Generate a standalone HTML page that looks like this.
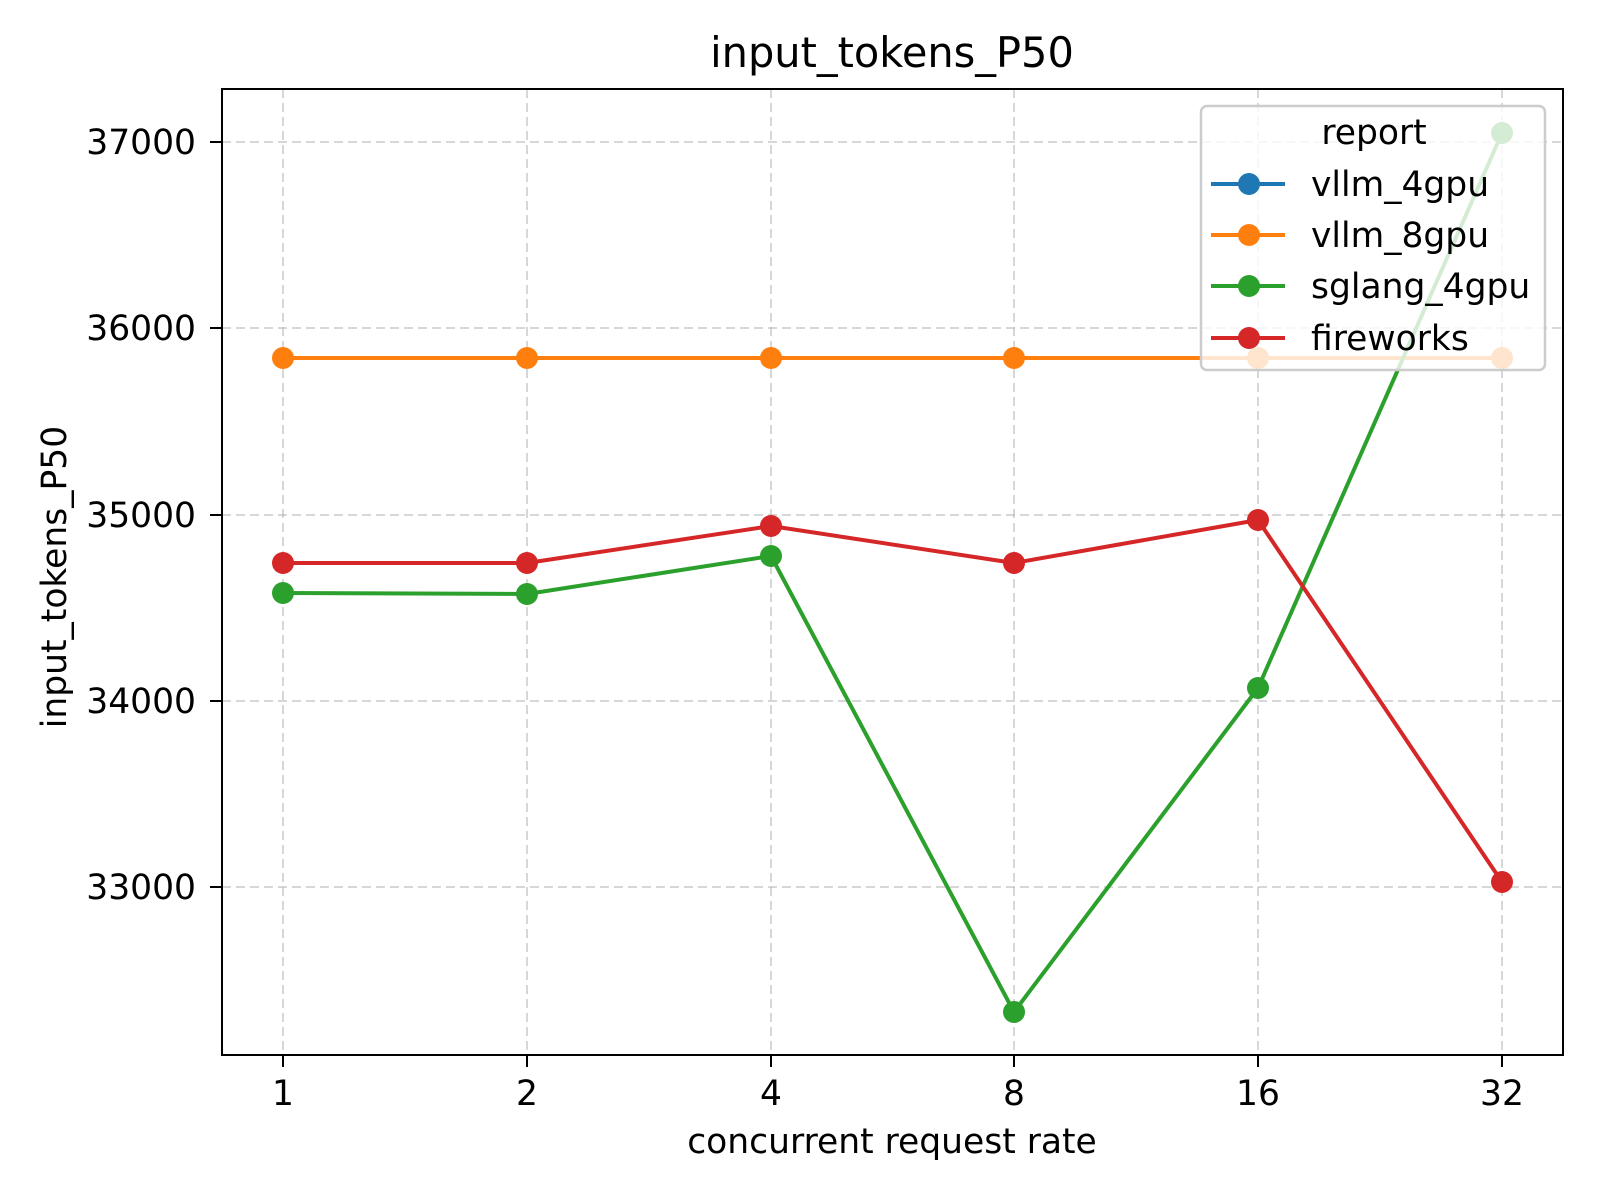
<!DOCTYPE html>
<html><head><meta charset="utf-8"><style>html,body{margin:0;padding:0;background:#fff}svg{display:block}</style></head>
<body>
<svg width="1600" height="1200" xmlns="http://www.w3.org/2000/svg" font-family="DejaVu Sans, Liberation Sans, sans-serif">
<rect width="1600" height="1200" fill="#fff"/>
<g stroke="#b0b0b0" stroke-opacity="0.5" stroke-width="2" stroke-dasharray="9,5">
<line x1="283" y1="89" x2="283" y2="1055"/><line x1="527" y1="89" x2="527" y2="1055"/><line x1="771" y1="89" x2="771" y2="1055"/><line x1="1014" y1="89" x2="1014" y2="1055"/><line x1="1258" y1="89" x2="1258" y2="1055"/><line x1="1502" y1="89" x2="1502" y2="1055"/>
<line x1="222" y1="142" x2="1563" y2="142"/><line x1="222" y1="328" x2="1563" y2="328"/><line x1="222" y1="515" x2="1563" y2="515"/><line x1="222" y1="701" x2="1563" y2="701"/><line x1="222" y1="887" x2="1563" y2="887"/>
</g>
<g fill="none" stroke-width="4" stroke-linejoin="round">
<polyline stroke="#ff7f0e" points="283,358 527,358 771,358 1014,358 1258,358 1502,358"/>
<polyline stroke="#2ca02c" points="283,593 527,594 771,556 1014,1012 1258,688 1502,133"/>
<polyline stroke="#d62728" points="283,563 527,563 771,526 1014,563 1258,520 1502,882"/>
</g>
<g fill="#ff7f0e"><circle cx="283" cy="358" r="11"/><circle cx="527" cy="358" r="11"/><circle cx="771" cy="358" r="11"/><circle cx="1014" cy="358" r="11"/><circle cx="1258" cy="358" r="11"/><circle cx="1502" cy="358" r="11"/></g>
<g fill="#2ca02c"><circle cx="283" cy="593" r="11"/><circle cx="527" cy="594" r="11"/><circle cx="771" cy="556" r="11"/><circle cx="1014" cy="1012" r="11"/><circle cx="1258" cy="688" r="11"/><circle cx="1502" cy="133" r="11"/></g>
<g fill="#d62728"><circle cx="283" cy="563" r="11"/><circle cx="527" cy="563" r="11"/><circle cx="771" cy="526" r="11"/><circle cx="1014" cy="563" r="11"/><circle cx="1258" cy="520" r="11"/><circle cx="1502" cy="882" r="11"/></g>
<rect x="1201" y="106" width="344" height="264" rx="6" fill="#fff" fill-opacity="0.8" stroke="#cccccc" stroke-width="2.5"/>
<text x="1374" y="144" font-size="34.5" text-anchor="middle" fill="#000">report</text>
<g stroke-width="4">
<line x1="1211" y1="184" x2="1285" y2="184" stroke="#1f77b4"/><circle cx="1249" cy="184" r="11" fill="#1f77b4"/>
<line x1="1211" y1="235" x2="1285" y2="235" stroke="#ff7f0e"/><circle cx="1249" cy="235" r="11" fill="#ff7f0e"/>
<line x1="1211" y1="286" x2="1285" y2="286" stroke="#2ca02c"/><circle cx="1249" cy="286" r="11" fill="#2ca02c"/>
<line x1="1211" y1="338" x2="1285" y2="338" stroke="#d62728"/><circle cx="1249" cy="338" r="11" fill="#d62728"/>
</g>
<g font-size="34.5" fill="#000">
<text x="1311" y="196">vllm_4gpu</text><text x="1311" y="247">vllm_8gpu</text><text x="1311" y="298">sglang_4gpu</text><text x="1311" y="350">fireworks</text>
</g>
<rect x="222" y="89" width="1341" height="966" fill="none" stroke="#000" stroke-width="2"/>
<g stroke="#000" stroke-width="2">
<line x1="210" y1="142" x2="222" y2="142"/><line x1="210" y1="328" x2="222" y2="328"/><line x1="210" y1="515" x2="222" y2="515"/><line x1="210" y1="701" x2="222" y2="701"/><line x1="210" y1="887" x2="222" y2="887"/>
<line x1="283" y1="1055" x2="283" y2="1067"/><line x1="527" y1="1055" x2="527" y2="1067"/><line x1="771" y1="1055" x2="771" y2="1067"/><line x1="1014" y1="1055" x2="1014" y2="1067"/><line x1="1258" y1="1055" x2="1258" y2="1067"/><line x1="1502" y1="1055" x2="1502" y2="1067"/>
</g>
<g font-size="34.5" fill="#000" text-anchor="end">
<text x="196" y="154">37000</text><text x="196" y="340">36000</text><text x="196" y="527">35000</text><text x="196" y="713">34000</text><text x="196" y="899">33000</text>
</g>
<g font-size="34.5" fill="#000" text-anchor="middle">
<text x="283" y="1105">1</text><text x="527" y="1105">2</text><text x="771" y="1105">4</text><text x="1014" y="1105">8</text><text x="1258" y="1105">16</text><text x="1502" y="1105">32</text>
<text x="892" y="1153">concurrent request rate</text>
<text x="892" y="67" font-size="41.5">input_tokens_P50</text>
<text transform="translate(66,577) rotate(-90)">input_tokens_P50</text>
</g>
</svg>
</body></html>
